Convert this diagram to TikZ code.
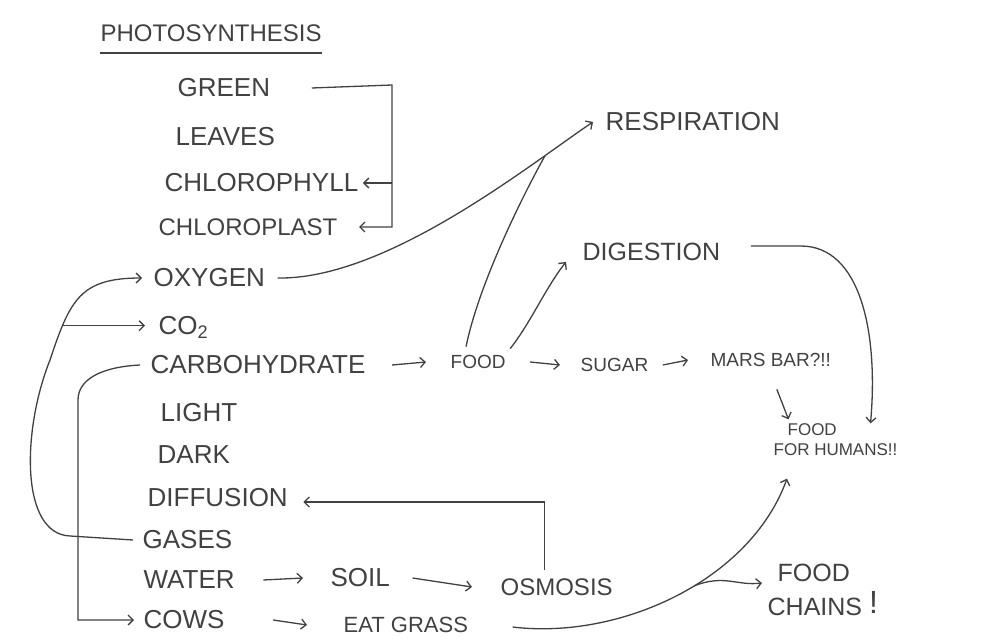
\documentclass[tikz,border=0pt]{standalone}
\usepackage{fontspec}
\setmainfont{Liberation Sans}
\usetikzlibrary{arrows.meta}
\definecolor{pencil}{HTML}{414141}

\begin{document}
\begin{tikzpicture}[x=1pt, y=-1pt, color=pencil, line width=1.3pt,
    >={Straight Barb[length=5pt,width=10pt]},
    word/.style={anchor=west, inner sep=0pt, font=\fontsize{26}{30}\selectfont},
    note/.style={anchor=west, inner sep=0pt, font=\fontsize{19}{22}\selectfont}]
\useasboundingbox (0,0) rectangle (997,639);
%%   kw   (name)   (x, y)   {text}
    \node[word, font=\fontsize{24}{28}\selectfont] (title) at (100,33) {PHOTOSYNTHESIS};
    \node[word] (green) at (177,88) {GREEN};
    \node[word] (leaves) at (175,137) {LEAVES};
    \node[word] (chlorophyll) at (164,183) {CHLOROPHYLL};
    \node[word, font=\fontsize{24}{28}\selectfont] (chloroplast) at (158,227) {CHLOROPLAST};
    \node[word] (oxygen) at (153,278) {OXYGEN};
    \node[word] (co2) at (158,327) {CO\textsubscript{2}};
    \node[word] (carbo) at (150,365) {CARBOHYDRATE};
    \node[word] (light) at (160,413) {LIGHT};
    \node[word] (dark) at (157,455) {DARK};
    \node[word] (diffusion) at (147,498) {DIFFUSION};
    \node[word] (gases) at (142,540) {GASES};
    \node[word] (water) at (143,580) {WATER};
    \node[word] (cows) at (143,620) {COWS};
    \node[word] (soil) at (330,578) {SOIL};
    \node[word, font=\fontsize{24}{28}\selectfont] (osmosis) at (500,587) {OSMOSIS};
    \node[word, font=\fontsize{22}{26}\selectfont] (eatgrass) at (343,625) {EAT GRASS};
    \node[note] (food) at (450,362) {FOOD};
    \node[note] (sugar) at (580,365) {SUGAR};
    \node[note] (marsbar) at (710,360) {MARS BAR?!!};
    \node[note, align=left, font=\fontsize{17}{20}\selectfont] (humans) at (773,440) {\hspace*{14pt}FOOD\\FOR HUMANS!!};
    \node[word] (respiration) at (605,122) {RESPIRATION};
    \node[word, font=\fontsize{25}{29}\selectfont] (digestion) at (582,252) {DIGESTION};
    \node[word, align=left, font=\fontsize{25}{34}\selectfont] (chains) at (767,590) {\hspace*{10pt}FOOD\\CHAINS\ \raisebox{2pt}{\fontsize{32}{32}\selectfont !}};

    \draw ([yshift=-11pt]title.south west) -- ([yshift=-11pt]title.south east);

    % leaves bracket
    \coordinate (bend) at (392,85);
    \draw[->] ([xshift=41pt]green.east) -- (bend) |- ([xshift=21pt]chloroplast.east);
    \draw[->] (bend |- chlorophyll.east) -- ([xshift=4pt]chlorophyll.east);

    % gases loop
    \draw[->] ([xshift=-9pt]gases.west) -- (70,536) .. controls (20,534) and (22,430) .. (50,360)
        .. controls (70,300) and (80,278) .. ([xshift=-11pt]oxygen.west) coordinate[pos=0.22] (fork);
    \draw[->, shorten >=13pt] (fork) -- (fork -| co2.west);

    % carbohydrate to cows
    \coordinate (spine) at (78,400);
    \draw[->] ([xshift=-10pt]carbo.west) .. controls +(-40,2) and +(0,-20) .. (spine)
        -- (spine |- cows.west) -- ([xshift=-9pt]cows.west);

    \draw[->] (osmosis.north) ++(-12,-8) |- ([xshift=15pt, yshift=-4pt]diffusion.east);

    \draw[->] ([xshift=26pt]carbo.east) -- ([xshift=-24pt]food.west);
    \draw[->] ([xshift=24pt]food.east) -- ([xshift=-20pt]sugar.west);
    \draw[->] ([xshift=14pt]sugar.east) -- ([xshift=-22pt]marsbar.west);
    \draw[->] ([xshift=28pt]water.east) -- ([xshift=-27pt]soil.west);
    \draw[->] ([xshift=22pt]soil.east) -- ([xshift=-28pt]osmosis.west);
    \draw[->] ([xshift=48pt]cows.east) -- ([xshift=-36pt]eatgrass.west);

    % respiration and digestion
    \draw[->] ([xshift=12pt]oxygen.east) .. controls +(110,2) and +(-60,40) .. ([xshift=-12pt]respiration.west)
        coordinate[pos=0.79] (merge);
    \draw (food.north) ++(-12,-8) .. controls +(12,-60) and +(-25,45) .. (merge);
    \draw[->] (food.north east) ++(4,-6) .. controls +(20,-25) and +(-20,25) .. ([xshift=-16pt, yshift=-10pt]digestion.west);
    \draw[->] ([xshift=30pt, yshift=6pt]digestion.east) -- ++(50,0) .. controls +(60,0) and +(8,-90) .. ([xshift=35pt]humans.north);
    \draw[->] (marsbar.south) ++(6,22) -- ([xshift=-47pt, yshift=4pt]humans.north);

    % eat grass
    \draw[->] ([xshift=44pt, yshift=-2pt]eatgrass.east) .. controls +(107,13) and +(-37,102) .. ([xshift=14pt, yshift=-22pt]humans.south west)
        coordinate[pos=0.56] (fork2);
    \draw[->] (fork2) .. controls +(30,-12) and +(-25,3) .. ([xshift=-5pt, yshift=7pt]chains.west);
\end{tikzpicture}
\end{document}
